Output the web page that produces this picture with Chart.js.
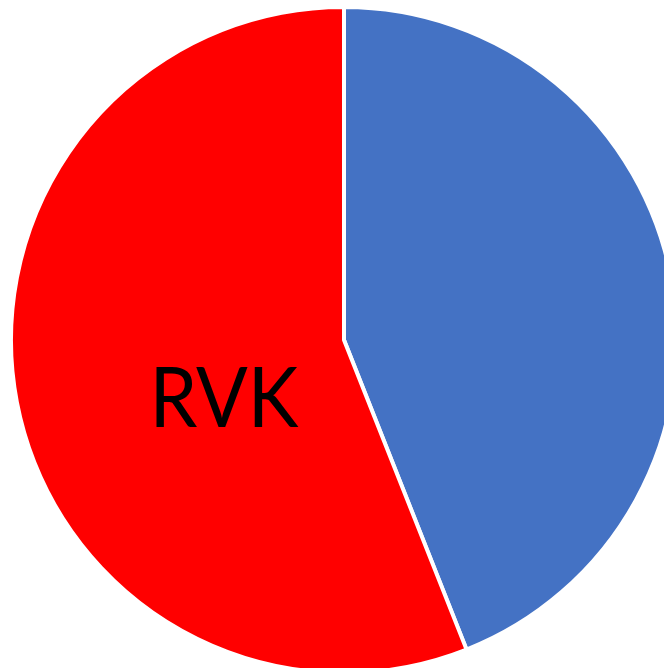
<!DOCTYPE html>
<html>
<head>
<meta charset="utf-8">
<script src="https://cdn.jsdelivr.net/npm/chart.js@4/dist/chart.umd.min.js"></script>
<style>
html,body{margin:0;padding:0;background:#fff;overflow:hidden;width:664px;height:668px;}
#wrap{position:absolute;left:9px;top:5px;width:670px;height:670px;}
#label{position:absolute;left:224px;top:395px;transform:translate(-50%,-50%) scaleX(0.91);font-family:Lato,"Open Sans",sans-serif;font-size:84px;color:#000;line-height:1;white-space:nowrap;}
</style>
</head>
<body>
<div id="wrap"><canvas id="c" width="670" height="670"></canvas></div>
<div id="label"></div>
<script>
const categories = ["Other", "RVK"];
const values = [44, 56];
const colors = ["#4472C4", "#FF0000"];
const labelText = "RVK";

document.getElementById('label').textContent = labelText;

new Chart(document.getElementById('c'), {
  type: 'pie',
  data: {
    labels: categories,
    datasets: [{
      data: values,
      backgroundColor: colors,
      borderColor: '#ffffff',
      borderWidth: 4
    }]
  },
  options: {
    responsive: false,
    animation: false,
    layout: { padding: 0 },
    plugins: { legend: { display: false }, tooltip: { enabled: false } }
  }
});
</script>
</body>
</html>
